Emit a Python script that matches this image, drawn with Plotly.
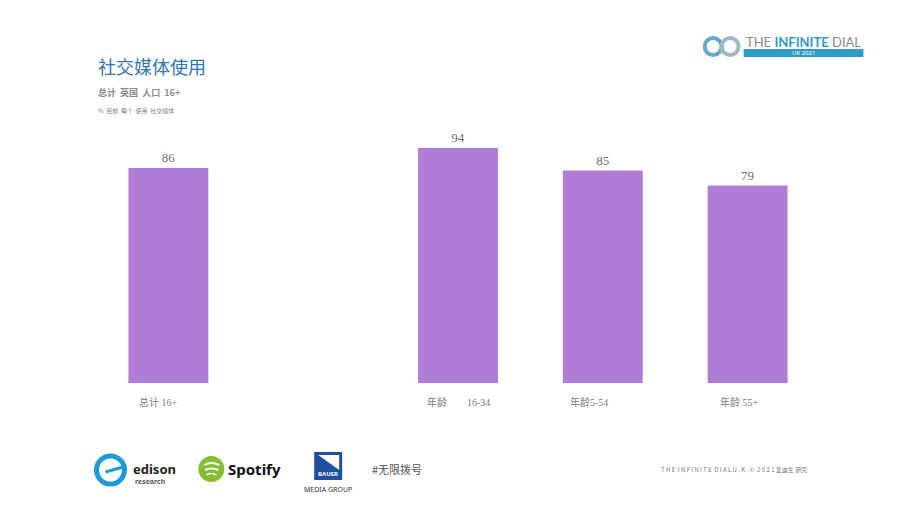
import plotly.graph_objects as go

categories = ["总计 16+", " ", "年龄        16-34", "年龄5-54", "年龄 55+"]
values = [86, None, 94, 85, 79]
label_shift = [-10, 0, 0, -14, -8]

W, H = 920, 518
ML, MR, MT, MB = 95.5, 99.5, 133, 135
PW, PH = W - ML - MR, H - MT - MB

def px(x):
    return (x - ML) / PW

def py(y):
    return (H - MB - y) / PH

BAR = "#B07CD6"
SERIF = "Liberation Serif, Noto Sans CJK SC"
SANS = "Noto Sans CJK SC, Noto Sans, sans-serif"

fig = go.Figure()
fig.add_trace(go.Bar(
    x=list(range(len(categories))), y=values,
    marker=dict(color=BAR, line=dict(width=0)),
    text=[("" if v is None else str(v)) for v in values],
    textposition="outside", cliponaxis=False,
    textfont=dict(family=SERIF, size=13, color="#6b6b6b"),
    hoverinfo="skip",
))

ann = []
for i, (c, s) in enumerate(zip(categories, label_shift)):
    if c.strip():
        ann.append(dict(x=i, y=0, xref="x", yref="y", text=c.replace("  ", "&nbsp;&nbsp;"), showarrow=False,
                        yanchor="top", yshift=-11, xshift=s,
                        font=dict(family=SERIF, size=10, color="#7a7a7a")))

# titles
ann += [
    dict(x=px(95), y=py(66), xref="paper", yref="paper", text="社交媒体使用", showarrow=False,
         xanchor="left", yanchor="middle", font=dict(family=SANS, size=18, color="#2F74B5")),
    dict(x=px(95), y=py(92), xref="paper", yref="paper", text="<b>总计&nbsp;&nbsp;英国&nbsp;&nbsp;人口&nbsp;&nbsp;16+</b>", showarrow=False,
         xanchor="left", yanchor="middle", font=dict(family=SANS, size=9, color="#8a8a8a")),
    dict(x=px(95), y=py(111), xref="paper", yref="paper", text="%&nbsp;&nbsp;目前&nbsp;&nbsp;每个&nbsp;&nbsp;使用&nbsp;&nbsp;社交媒体", showarrow=False,
         xanchor="left", yanchor="middle", font=dict(family=SANS, size=6, color="#808080")),
    # Infinite Dial logo text
    dict(x=px(744), y=py(42), xref="paper", yref="paper",
         text="THE <b><span style='color:#2E9CC4'>INFINITE</span></b> DIAL", showarrow=False,
         xanchor="left", yanchor="middle", font=dict(family="Lato, Noto Sans", size=13, color="#8a8a8a")),
    dict(x=px(804), y=py(53), xref="paper", yref="paper", text="UK 2021", showarrow=False,
         xanchor="center", yanchor="middle", font=dict(family="Noto Sans", size=6, color="white")),
    # footer
    dict(x=px(131), y=py(469), xref="paper", yref="paper", text="<b>edison</b>", showarrow=False,
         xanchor="left", yanchor="middle", font=dict(family="Noto Sans", size=13, color="#222")),
    dict(x=px(133), y=py(481), xref="paper", yref="paper", text="<b>research</b>", showarrow=False,
         xanchor="left", yanchor="middle", font=dict(family="Noto Sans", size=7, color="#555")),
    dict(x=px(226), y=py(469), xref="paper", yref="paper", text="<b>Spotify</b>", showarrow=False,
         xanchor="left", yanchor="middle", font=dict(family="Noto Sans", size=15, color="#111")),
    dict(x=px(328), y=py(474), xref="paper", yref="paper", text="<b>BAUER</b>", showarrow=False,
         xanchor="center", yanchor="middle", font=dict(family="Noto Sans", size=6, color="white")),
    dict(x=px(328), y=py(489), xref="paper", yref="paper", text="MEDIA GROUP", showarrow=False,
         xanchor="center", yanchor="middle", font=dict(family="Noto Sans", size=7, color="#333")),
    dict(x=px(370), y=py(469), xref="paper", yref="paper", text="#无限拨号", showarrow=False,
         xanchor="left", yanchor="middle", font=dict(family=SANS, size=11, color="#555")),
    dict(x=px(659), y=py(470), xref="paper", yref="paper",
         text="T H E  I N F I N I T E  D I A L U . K . ©  2 0 2 1 爱迪生 研究", showarrow=False,
         xanchor="left", yanchor="middle", font=dict(family=SANS, size=6, color="#777")),
]

shapes = [
    # infinite dial logo rings and bar
    dict(type="circle", xref="paper", yref="paper", x0=px(705), x1=px(722), y0=py(38), y1=py(55),
         line=dict(color="#6AA8C8", width=4)),
    dict(type="circle", xref="paper", yref="paper", x0=px(722), x1=px(739), y0=py(38), y1=py(55),
         line=dict(color="#9EB8C6", width=4)),
    dict(type="rect", xref="paper", yref="paper", x0=px(744), x1=px(864), y0=py(49), y1=py(57),
         fillcolor="#2E9CC4", line=dict(width=0)),
    # edison ring
    dict(type="circle", xref="paper", yref="paper", x0=px(96), x1=px(124), y0=py(456), y1=py(484),
         line=dict(color="#1E9BD7", width=5)),
    dict(type="line", xref="paper", yref="paper", x0=px(105), x1=px(126), y0=py(472), y1=py(466),
         line=dict(color="#1E9BD7", width=3)),
    # spotify
    dict(type="circle", xref="paper", yref="paper", x0=px(198), x1=px(224), y0=py(456), y1=py(482),
         fillcolor="#84BD31", line=dict(width=0)),
    dict(type="path", xref="paper", yref="paper",
         path=f"M {px(204)},{py(465)} Q {px(211)},{py(461)} {px(219)},{py(465)}",
         line=dict(color="white", width=2)),
    dict(type="path", xref="paper", yref="paper",
         path=f"M {px(205)},{py(470)} Q {px(211)},{py(467)} {px(218)},{py(470)}",
         line=dict(color="white", width=2)),
    dict(type="path", xref="paper", yref="paper",
         path=f"M {px(206)},{py(475)} Q {px(211)},{py(472)} {px(216)},{py(475)}",
         line=dict(color="white", width=1.5)),
    # bauer
    dict(type="rect", xref="paper", yref="paper", x0=px(314), x1=px(342), y0=py(452), y1=py(480),
         fillcolor="#1F4E9C", line=dict(width=0)),
    dict(type="path", xref="paper", yref="paper",
         path=f"M {px(318)},{py(455)} L {px(339)},{py(455)} L {px(339)},{py(470)} Z",
         fillcolor="white", line=dict(width=0)),
]

fig.update_layout(
    width=W, height=H,
    margin=dict(l=ML, r=MR, t=MT, b=MB, pad=0),
    paper_bgcolor="white", plot_bgcolor="white",
    bargap=0.448, showlegend=False,
    xaxis=dict(range=[-0.5, 4.5], showticklabels=False, showgrid=False, zeroline=False,
               showline=False, ticks="", fixedrange=True),
    yaxis=dict(range=[0, 100], visible=False, showgrid=False, zeroline=False, fixedrange=True),
    annotations=ann, shapes=shapes,
)

fig.write_html("out.html")
